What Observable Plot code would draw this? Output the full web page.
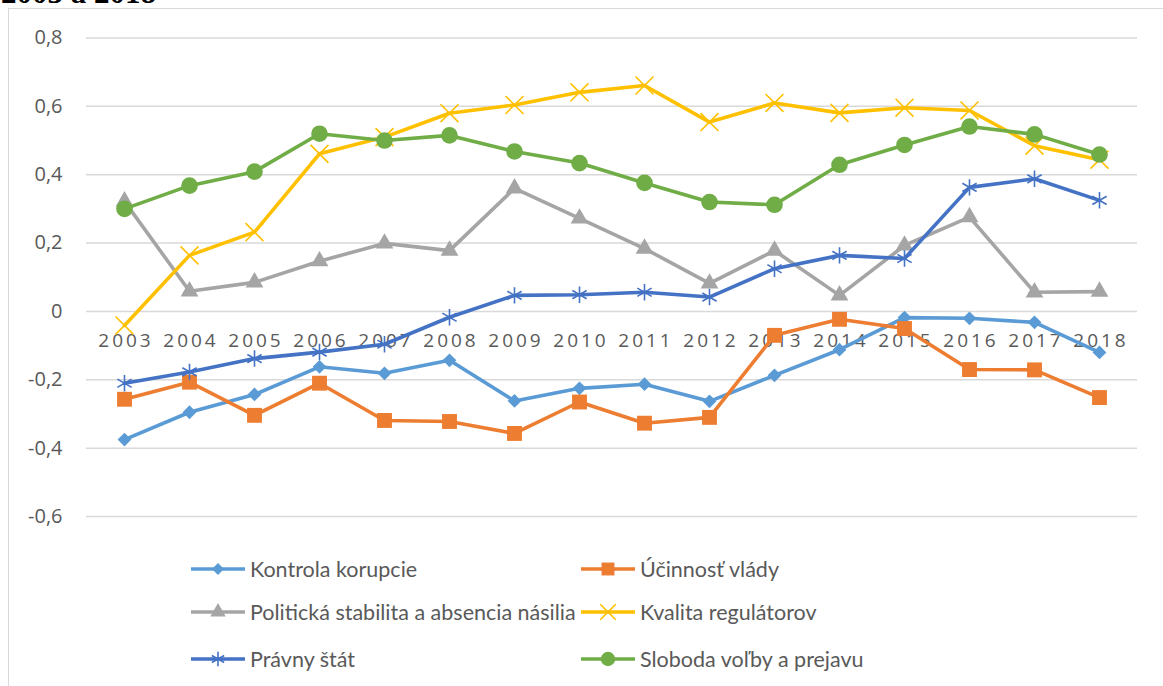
<!DOCTYPE html>
<html>
<head>
<meta charset="utf-8">
<script src="https://cdn.jsdelivr.net/npm/d3@7"></script>
<script src="https://cdn.jsdelivr.net/npm/@observablehq/plot@0.6"></script>
<style>
  html, body { margin: 0; padding: 0; background: #fff; overflow: hidden; }
  body { width: 1163px; height: 686px; position: relative; }
  #frame { position: absolute; left: 8px; top: 8px; width: 1300px; height: 800px;
           border-left: 1.5px solid #D9D9D9; border-top: 1.5px solid #D9D9D9; box-sizing: border-box; }
  #title { position: absolute; left: 1px; top: -23.5px; font: bold 31px "Liberation Serif", serif; color: #000; line-height: 31px; white-space: nowrap; }
  #chart { position: absolute; left: 0; top: 0; }
  #legend { position: absolute; left: 0; top: 0; width: 1163px; height: 686px; pointer-events: none; }
  .item { position: absolute; display: flex; align-items: center; height: 30px; margin-top: -15px;
          font: 21.5px Lato, sans-serif; color: #595959; white-space: nowrap; }
  .item svg { margin-right: 4px; }
</style>
</head>
<body>
<div id="frame"></div>
<div id="title">2003 a 2018</div>
<div id="chart"></div>
<div id="legend"></div>
<script>
const years = [2003, 2004, 2005, 2006, 2007, 2008, 2009, 2010, 2011, 2012, 2013, 2014, 2015, 2016, 2017, 2018];
const yTicks = [-0.6, -0.4, -0.2, 0, 0.2, 0.4, 0.6, 0.8];

const kontrolaKorupcie = [-0.375, -0.295, -0.243, -0.162, -0.181, -0.143, -0.262, -0.225, -0.213, -0.263, -0.187, -0.112, -0.018, -0.020, -0.032, -0.120];
const ucinnostVlady    = [-0.257, -0.207, -0.304, -0.210, -0.319, -0.322, -0.357, -0.265, -0.327, -0.310, -0.070, -0.023, -0.050, -0.170, -0.171, -0.252];
const politickaStab    = [0.322, 0.059, 0.085, 0.147, 0.199, 0.178, 0.360, 0.272, 0.184, 0.082, 0.178, 0.047, 0.193, 0.276, 0.056, 0.058];
const kvalitaReg       = [-0.041, 0.164, 0.232, 0.461, 0.510, 0.580, 0.604, 0.641, 0.661, 0.554, 0.610, 0.581, 0.596, 0.588, 0.485, 0.444];
const pravnyStat       = [-0.210, -0.177, -0.138, -0.119, -0.096, -0.017, 0.047, 0.049, 0.056, 0.042, 0.125, 0.164, 0.155, 0.363, 0.388, 0.325];
const slobodaVolby     = [0.300, 0.368, 0.409, 0.520, 0.500, 0.515, 0.468, 0.434, 0.376, 0.320, 0.312, 0.429, 0.487, 0.541, 0.518, 0.459];

const seriesNames = ["Kontrola korupcie", "Účinnosť vlády", "Politická stabilita a absencia násilia", "Kvalita regulátorov", "Právny štát", "Sloboda voľby a prejavu"];
const seriesValues = [kontrolaKorupcie, ucinnostVlady, politickaStab, kvalitaReg, pravnyStat, slobodaVolby];
const seriesColors = ["#5B9BD5", "#ED7D31", "#A5A5A5", "#FFC000", "#4472C4", "#70AD47"];
const seriesSymbols = ["diamond2", "square", "triangle", "times", "asterisk", "circle"];
const seriesR = [6.2, 8.4, 6.6, 8.2, 7.8, 8.3];
const seriesFilled = [true, true, true, false, false, true];

const fmt = v => v === 0 ? "0" : (v < 0 ? "-" : "") + Math.abs(v).toFixed(1).replace(".", ",");

const marks = [
  Plot.ruleY(yTicks, {stroke: "#D9D9D9", strokeWidth: 1.5}),
  Plot.text(yTicks, {y: d => d, text: fmt, frameAnchor: "left", textAnchor: "end", dx: -24, fontSize: 20, fill: "#595959"}),
  Plot.text(years, {x: d => d, y: 0, text: d => String(d), dy: 29, dx: 1.5, fontSize: 19, fill: "#595959"})
];

seriesNames.forEach((name, i) => {
  const data = years.map((yr, j) => ({year: yr, value: seriesValues[i][j]}));
  marks.push(Plot.line(data, {x: "year", y: "value", stroke: seriesColors[i], strokeWidth: 3.6, strokeLinejoin: "round", strokeLinecap: "round"}));
  marks.push(Plot.dot(data, seriesFilled[i]
    ? {x: "year", y: "value", symbol: () => seriesSymbols[i], r: seriesR[i], fill: seriesColors[i], stroke: "none"}
    : {x: "year", y: "value", symbol: () => seriesSymbols[i], r: seriesR[i], stroke: seriesColors[i], strokeWidth: 1.6, fill: "none"}));
});

const chart = Plot.plot({
  width: 1163,
  height: 540,
  marginLeft: 86,
  marginRight: 26,
  marginTop: 37.5,
  marginBottom: 24,
  style: {fontFamily: "'Open Sans', sans-serif", background: "transparent", color: "#595959", overflow: "visible"},
  x: {type: "point", domain: years, padding: 0.5, axis: null},
  y: {domain: [-0.6, 0.8], axis: null},
  symbol: {type: "identity"},
  marks
});
d3.select(chart).selectAll("text").filter(function() { return /^\d{4}$/.test(this.textContent); })
  .attr("letter-spacing", "3px");
document.getElementById("chart").appendChild(chart);

// Legend
const legendCols = [190, 580];
const legendRows = [569, 612, 659];
const legend = d3.select("#legend");
seriesNames.forEach((name, i) => {
  const col = i % 2, row = Math.floor(i / 2);
  const item = legend.append("div").attr("class", "item")
    .style("left", legendCols[col] + "px").style("top", legendRows[row] + "px");
  const svg = item.append("svg").attr("width", 56).attr("height", 24);
  svg.append("line").attr("x1", 1).attr("x2", 55).attr("y1", 12).attr("y2", 12)
    .attr("stroke", seriesColors[i]).attr("stroke-width", 3.6);
  const symMap = {diamond2: d3.symbolDiamond2, square: d3.symbolSquare, triangle: d3.symbolTriangle, times: d3.symbolTimes, asterisk: d3.symbolAsterisk, circle: d3.symbolCircle};
  const size = Math.PI * seriesR[i] * seriesR[i] * 0.75;
  const path = svg.append("path").attr("transform", "translate(28,12)")
    .attr("d", d3.symbol(symMap[seriesSymbols[i]], size)());
  if (seriesFilled[i]) path.attr("fill", seriesColors[i]);
  else path.attr("fill", "none").attr("stroke", seriesColors[i]).attr("stroke-width", 1.6);
  item.append("span").text(name);
});
</script>
</body>
</html>
